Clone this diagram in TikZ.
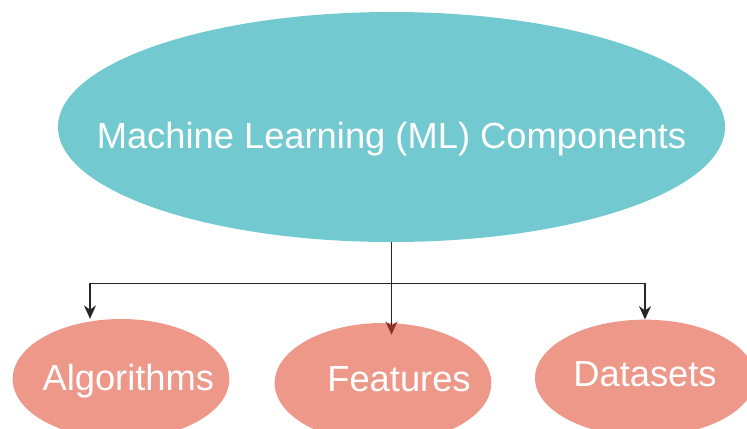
\documentclass[tikz,border=0pt]{standalone}
\usepackage{fontspec}
\setmainfont{Liberation Sans}
\usetikzlibrary{shapes.geometric,arrows.meta}
\definecolor{mlteal}{HTML}{72CAD0}
\definecolor{partsalmon}{HTML}{EE988A}
\definecolor{tipbrown}{HTML}{8A3226}
\begin{document}
\begin{tikzpicture}[
        oval/.style={ellipse, draw=none, inner sep=0pt},
        bigoval/.style={oval, fill=mlteal, minimum width=20.01cm, minimum height=6.9cm},
        partoval/.style={oval, fill=partsalmon, minimum width=6.5cm, minimum height=3.6cm},
        ovaltext/.style={text=white, font=\fontsize{31}{37}\selectfont},
        arrow/.style={-{Stealth[length=4mm,width=3.6mm]}, line width=1.1pt, draw=black!85}
    ]
        \useasboundingbox (-11.745,3.81) rectangle (10.665,-9.03);

        % top node and the three parts below it
        \node[bigoval, label={[ovaltext, yshift=-0.36cm]center:Machine Learning (ML) Components}] (ml) at (0,0) {};
        \node[partoval, label={[ovaltext, xshift=0.22cm, yshift=-0.05cm]center:Algorithms}] (alg) at (-8.115,-7.56) {};
        \node[partoval, label={[ovaltext, xshift=0.48cm, yshift=0.12cm]center:Features}] (feat) at (-0.255,-7.68) {};
        \node[partoval, minimum width=6.6cm, minimum height=3.5cm, label={[ovaltext, yshift=0.1cm]center:Datasets}] (data) at (7.605,-7.53) {};

        % fork under the top node
        \coordinate (fork) at ([yshift=-1.23cm]ml.south);
        \draw[arrow, -{Stealth[length=4mm,width=3.6mm,color=tipbrown]}] (ml.south) -- ([yshift=-0.36cm]ml.south |- feat.north);
        \draw[arrow] (fork) -| ([xshift=-0.93cm]alg.north);
        \draw[arrow] (fork) -| (data.north);
    \end{tikzpicture}
\end{document}
